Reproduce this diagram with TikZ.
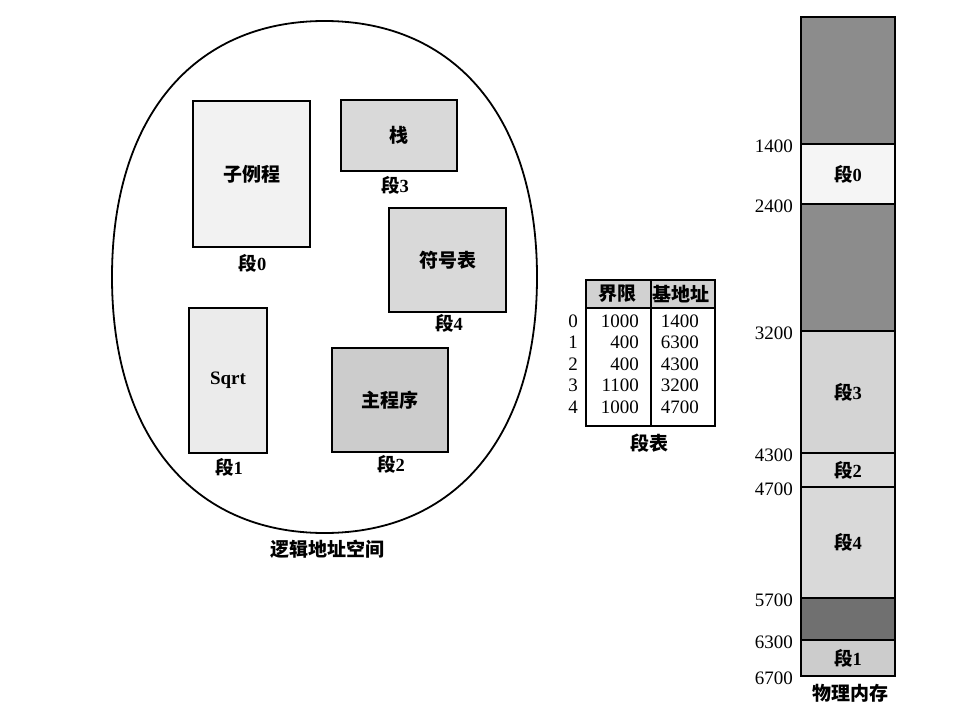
\documentclass[tikz,border=0pt]{standalone}
\usepackage{fontspec}
\setmainfont{Liberation Serif}
\newfontfamily\cjk{Noto Sans CJK SC}
\newcommand\dn[1]{{\cjk\bfseries 段}{\bfseries #1}}
\begin{document}
\begin{tikzpicture}[x=1pt,y=-1pt,
  segbox/.style={draw, line width=2.2pt, inner sep=0pt, font=\cjk\bfseries\fontsize{19}{20}\selectfont},
  lbl/.style={inner sep=0pt, font=\fontsize{18.5}{20}\selectfont},
  num/.style={inner sep=0pt, font=\fontsize{19}{20}\selectfont},
  captxt/.style={inner sep=0pt, font=\cjk\bfseries\fontsize{19}{20}\selectfont},
  memblk/.style={draw, line width=2.2pt, inner sep=0pt, minimum width=94pt, anchor=north west, font=\fontsize{18.5}{20}\selectfont}]
\useasboundingbox (0,0) rectangle (958,714);
% logical address space outline
\draw[line width=1.8pt] (324.5,21) .. controls (456.25,21) and (537,118.3) .. (537,277)
  .. controls (537,435.7) and (456.25,533) .. (324.5,533)
  .. controls (192.75,533) and (112,435.7) .. (112,277)
  .. controls (112,118.3) and (192.75,21) .. (324.5,21) -- cycle;
% segments
\node[segbox, fill=black!5, minimum width=117pt, minimum height=146pt] (sub) at (251.5,174) {子例程};
\node[segbox, fill=black!15, minimum width=116pt, minimum height=71pt] (stk) at (399,135.5) {栈};
\node[segbox, fill=black!15, minimum width=117pt, minimum height=104pt] (sym) at (447.5,260) {符号表};
\node[segbox, fill=black!8, minimum width=78pt, minimum height=145pt] (sqrt) at (228,380.5) {\rmfamily\bfseries Sqrt};
\node[segbox, fill=black!20, minimum width=116pt, minimum height=104pt] (main) at (390,400) {主程序};
\node[lbl] (l0) at (252.5,263) {\dn{0}};
\node[lbl] (l3) at (395,185) {\dn{3}};
\node[lbl] (l4) at (449,323) {\dn{4}};
\node[lbl] (l1) at (229,467) {\dn{1}};
\node[lbl] (l2) at (391,464) {\dn{2}};
\node[captxt] (lcap) at (327.5,549) {逻辑地址空间};
% segment table
\node[draw, line width=2.2pt, inner sep=0pt, minimum width=129pt, minimum height=146pt, anchor=north west] (tab) at (585,279) {};
\node[draw, line width=2.2pt, fill=black!18, inner sep=0pt, minimum width=129pt, minimum height=28pt, anchor=north west] (thead) at (585,279) {};
\draw[line width=2.2pt] (tab.north) -- (tab.south);
\node[captxt] (h1) at (617,294) {界限};
\node[captxt] (h2) at (681,294) {基地址};
\foreach \i/\lim/\base [count=\k from 0] in {0/1000/1400,1/400/6300,2/400/4300,3/1100/3200,4/1000/4700}{
  \pgfmathsetmacro\yy{321+21.5*\k}
  \node[num] (ri\i) at (573,\yy) {\i};
  \node[num, anchor=east] (rl\i) at (639,\yy) {\lim};
  \node[num, anchor=east] (rb\i) at (699,\yy) {\base};
}
\node[captxt] (tcap) at (649,443) {段表};
% physical memory
\node[memblk, fill=black!45, minimum height=127pt] (m0) at (800,16) {};
\node[memblk, fill=black!4, minimum height=60pt] (m1) at (800,143) {\dn{0}};
\node[memblk, fill=black!45, minimum height=127pt] (m2) at (800,203) {};
\node[memblk, fill=black!17, minimum height=122pt] (m3) at (800,330) {\dn{3}};
\node[memblk, fill=black!14, minimum height=34pt] (m4) at (800,452) {\dn{2}};
\node[memblk, fill=black!15, minimum height=111pt] (m5) at (800,486) {\dn{4}};
\node[memblk, fill=black!56, minimum height=42pt] (m6) at (800,597) {};
\node[memblk, fill=black!20, minimum height=36pt] (m7) at (800,639) {\dn{1}};
\foreach \v/\y in {1400/143,2400/203,3200/330,4300/452,4700/486,5700/597,6300/639,6700/675}{
  \node[num, anchor=east] (a\v) at (793,\y+3) {\v};
}
\node[captxt] (mcap) at (850,693) {物理内存};
\end{tikzpicture}
\end{document}
